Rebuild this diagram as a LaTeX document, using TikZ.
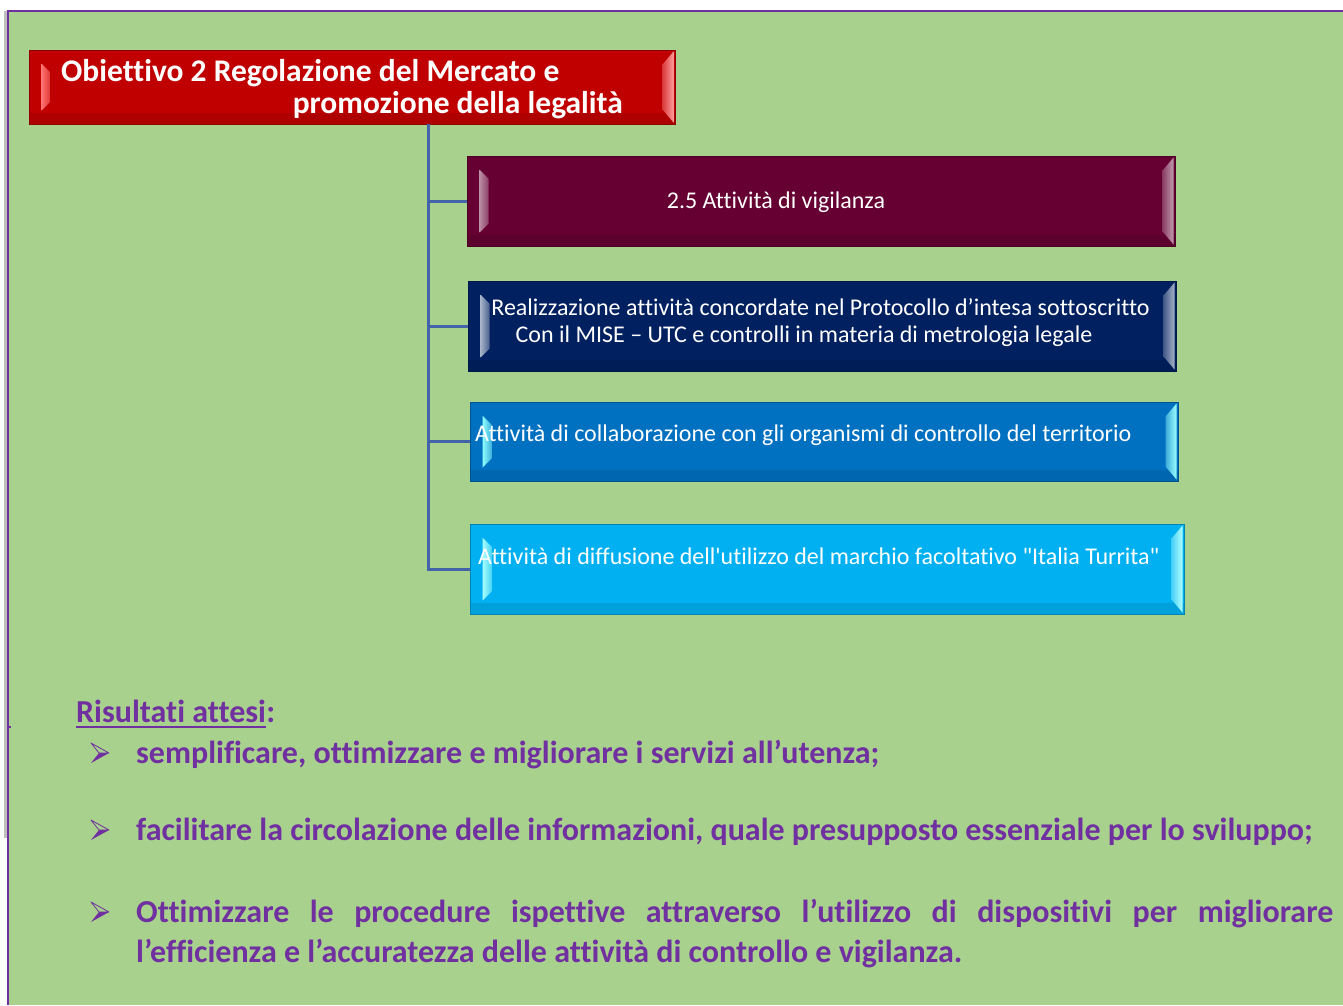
\documentclass[tikz,border=0pt]{standalone}
\usepackage{fontspec}
\setmainfont{Carlito}[Ligatures={TeXOff,CommonOff}]
\usetikzlibrary{calc}
\definecolor{bg}{RGB}{169,209,142}
\definecolor{purp}{RGB}{112,48,160}
\definecolor{cred}{RGB}{192,0,0}
\definecolor{cmaroon}{RGB}{102,0,51}
\definecolor{cnavy}{RGB}{0,32,96}
\definecolor{cblue}{RGB}{0,112,192}
\definecolor{ccyan}{RGB}{0,176,240}
\definecolor{conn}{RGB}{68,100,170}
\tikzset{
  bevbox/.style={draw=#1!75!black, fill=#1, line width=1pt, inner sep=0pt, rectangle},
  boxtext/.style={text=white, inner sep=0pt, font=\fontsize{24}{29}\selectfont},
  titletext/.style={text=white, inner sep=0pt, font=\fontsize{31.5}{37}\selectfont\bfseries},
  restext/.style={text=purp, inner sep=0pt, font=\fontsize{32}{38}\selectfont\bfseries},
  connline/.style={draw=conn, line width=3pt}
}
\newcommand{\bevels}[4]{% #1 node, #2 base, #3 light left, #4 light right
  \fill[#2!75!black, opacity=0.35] ($(#1.south west)+(1,-12)$) rectangle ($(#1.south east)+(-1,-1)$);
  \shade[left color=#3, right color=#3!45!#2] ($(#1.north west)+(13,14)$) -- ($(#1.north west)+(22,23)$) -- ($(#1.south west)+(22,-23)$) -- ($(#1.south west)+(13,-14)$) -- cycle;
  \shade[left color=#4!40!#2, right color=#4] ($(#1.north east)+(-2,2)$) -- ($(#1.north east)+(-13,15)$) -- ($(#1.south east)+(-13,-15)$) -- ($(#1.south east)+(-2,-2)$) -- cycle;
}
\newcommand{\arrowbullet}[2]{% tip at right, centre height #2
  \draw[purp, line width=0.8pt, line join=round] (#1,#2-10) -- (#1+18,#2) -- (#1+8,#2) -- cycle;
  \fill[purp] (#1+8,#2) -- (#1+18,#2) -- (#1,#2+10) -- cycle;
}
\begin{document}
\begin{tikzpicture}[x=1pt,y=-1pt]
\useasboundingbox (0,0) rectangle (1343,1005);
\fill[white] (0,0) rectangle (1343,1005);
\fill[black!25] (4,11) rectangle (8,838);
\fill[bg] (8,11) rectangle (1343,1005);
\draw[purp, line width=2pt] (8,1005) -- (8,11) -- (1343,11);
\draw[purp, line width=1.5pt] (8,727) -- (11,727);

% title box
\node[bevbox=cred, minimum width=646pt, minimum height=74pt] (title) at (352,87) {};
\bevels{title}{cred}{red!55!white}{red!40!white}
\node[titletext, anchor=base west] (t1) at (61,81) {Obiettivo 2 Regolazione del Mercato e};
\node[titletext, anchor=base east] (t2) at (623,113) {promozione della legalità};

% child boxes
\node[bevbox=cmaroon, minimum width=708pt, minimum height=90pt] (b1) at (821,201) {};
\bevels{b1}{cmaroon}{cmaroon!45!white}{cmaroon!40!white}
\node[boxtext, anchor=base] (b1t) at (776,208) {2.5 Attività di vigilanza};

\node[bevbox=cnavy, minimum width=708pt, minimum height=90pt] (b2) at (822,326) {};
\bevels{b2}{cnavy}{cnavy!35!white}{cnavy!35!white}
\node[boxtext, anchor=base] (b2t1) at (820.5,315) {Realizzazione attività concordate nel Protocollo d’intesa sottoscritto};
\node[boxtext, anchor=base] (b2t2) at (804,342) {Con il MISE – UTC e controlli in materia di metrologia legale};

\node[bevbox=cblue, minimum width=708pt, minimum height=79pt] (b3) at (824,441.5) {};
\bevels{b3}{cblue}{cyan!45!white}{cyan!40!white}
\node[boxtext, anchor=base west] (b3t) at (475,441) {Attività di collaborazione con gli organismi di controllo del territorio};

\node[bevbox=ccyan, minimum width=714pt, minimum height=90pt] (b4) at (827,569) {};
\bevels{b4}{ccyan}{cyan!35!white}{cyan!30!white}
\node[boxtext, anchor=base west] (b4t) at (478,564) {Attività di diffusione dell'utilizzo del marchio facoltativo "Italia Turrita"};

% connectors
\coordinate (trunk) at (428,124);
\draw[connline] (trunk) |- (b1.west);
\draw[connline] (trunk) |- (b2.west);
\draw[connline] (trunk) |- (b3.west);
\draw[connline] (trunk) |- (b4.west);

% results
\node[restext, anchor=base west] (rh) at (76,722) {Risultati attesi};
\node[restext, anchor=base west] (rhc) at (rh.base east) {:};
\draw[purp, line width=2pt] ($(rh.base west)+(0,5)$) -- ($(rh.base east)+(0,5)$);
\arrowbullet{91}{753}
\node[restext, anchor=base west] (r1) at (136,763) {semplificare, ottimizzare e migliorare i servizi all’utenza;};
\arrowbullet{91}{830}
\node[restext, anchor=base west] (r2) at (136,840) {facilitare la circolazione delle informazioni, quale presupposto essenziale per lo sviluppo;};
\arrowbullet{91}{912}
\node[restext, anchor=base west] (r3a) at (136,922) {\makebox[1197pt][s]{Ottimizzare le procedure ispettive attraverso l’utilizzo di dispositivi per migliorare}};
\node[restext, anchor=base west] (r3b) at (136,962) {l’efficienza e l’accuratezza delle attività di controllo e vigilanza.};
\end{tikzpicture}
\end{document}
